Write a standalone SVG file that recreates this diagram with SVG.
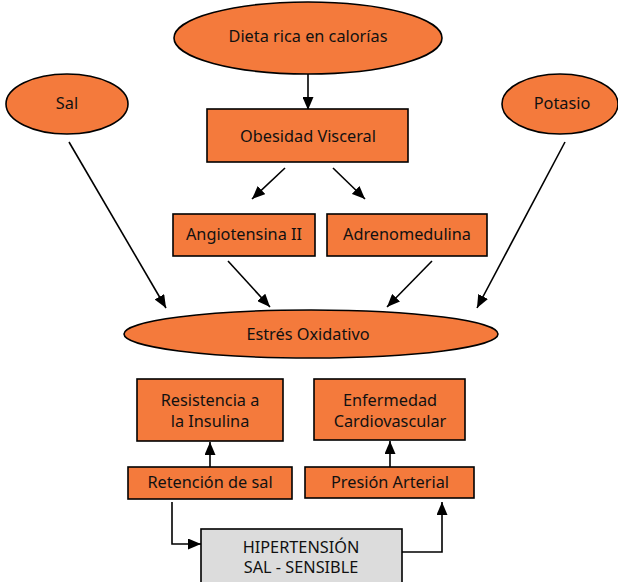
<svg xmlns="http://www.w3.org/2000/svg" width="618" height="582" viewBox="0 0 618 582">
<style>
.n{fill:#f47a3c;stroke:#000;stroke-width:1.6}
.g{fill:#dcdcdc;stroke:#000;stroke-width:1.6}
.t{font-family:"Noto Sans","Open Sans",sans-serif;font-size:16.3px;fill:#111;text-anchor:middle}
.c{fill:none;stroke:#000;stroke-width:1.6;marker-end:url(#a)}
</style>
<defs>
<marker id="a" markerWidth="13" markerHeight="11" refX="13" refY="5.5" orient="auto" markerUnits="userSpaceOnUse">
<path d="M0,0 L13,5.5 L0,11 Z" fill="#000"/>
</marker>
</defs>
<rect width="618" height="582" fill="#fff"/>
<g id="connectors">
<path class="c" d="M308,74 L308,110"/>
<path class="c" d="M285,168 L252,199"/>
<path class="c" d="M333,168 L365,199"/>
<path class="c" d="M69,142 L166,308"/>
<path class="c" d="M565,142 L477,308"/>
<path class="c" d="M228,261 L270,307"/>
<path class="c" d="M432,261 L387,307"/>
<path class="c" d="M210,467 L210,442"/>
<path class="c" d="M390,467 L390,441"/>
<path class="c" d="M172,502 L172,544 L201,544"/>
<path class="c" d="M402,552 L442,552 L442,502"/>
</g>
<g id="dieta"><ellipse class="n" cx="308" cy="38" rx="134" ry="36"/><text class="t" x="308" y="42">Dieta rica en calorías</text></g>
<g id="sal"><ellipse class="n" cx="67" cy="104" rx="61" ry="30"/><text class="t" x="67" y="109">Sal</text></g>
<g id="potasio"><ellipse class="n" cx="560" cy="104" rx="58" ry="30"/><text class="t" x="562" y="109">Potasio</text></g>
<g id="obesidad"><rect class="n" x="207" y="109" width="201" height="53"/><text class="t" x="308" y="142">Obesidad Visceral</text></g>
<g id="angiotensina"><rect class="n" x="173" y="214" width="142" height="42"/><text class="t" x="244" y="240">Angiotensina II</text></g>
<g id="adrenomedulina"><rect class="n" x="327" y="214" width="160" height="42"/><text class="t" x="407" y="240">Adrenomedulina</text></g>
<g id="estres"><ellipse class="n" cx="311" cy="334" rx="187" ry="24"/><text class="t" x="308" y="340">Estrés Oxidativo</text></g>
<g id="resistencia"><rect class="n" x="137" y="379" width="146" height="62"/><text class="t" x="210" y="406">Resistencia a</text><text class="t" x="210" y="427">la Insulina</text></g>
<g id="enfermedad"><rect class="n" x="314" y="379" width="151" height="61"/><text class="t" x="390" y="406">Enfermedad</text><text class="t" x="390" y="427">Cardiovascular</text></g>
<g id="retencion"><rect class="n" x="128" y="467" width="164" height="32"/><text class="t" x="210" y="488">Retención de sal</text></g>
<g id="presion"><rect class="n" x="305" y="467" width="169" height="31"/><text class="t" x="390" y="488">Presión Arterial</text></g>
<g id="hipertension"><rect class="g" x="201" y="529" width="201" height="55"/><text class="t" x="301" y="553">HIPERTENSIÓN</text><text class="t" x="301" y="573">SAL - SENSIBLE</text></g>
</svg>
